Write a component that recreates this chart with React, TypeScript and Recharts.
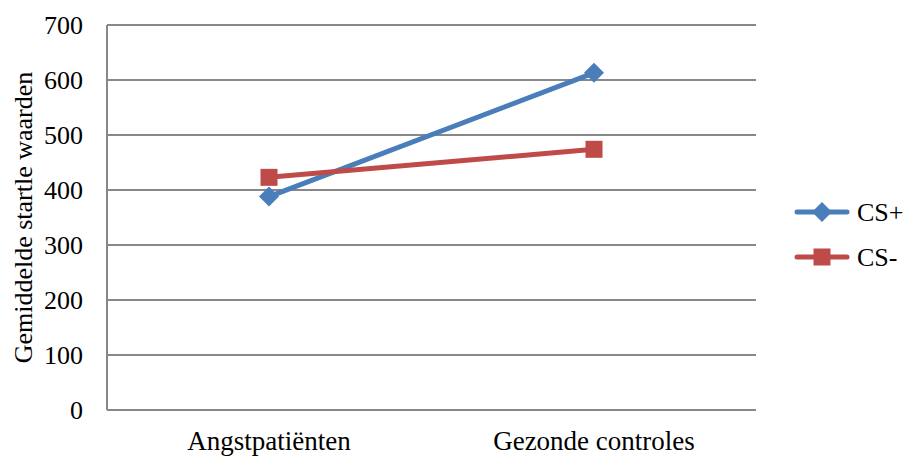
import React from "react";
import { LineChart, Line, XAxis, YAxis, CartesianGrid } from "recharts";

const groups = ["Angstpatiënten", "Gezonde controles"];
const csPlus = [388, 613];
const csMin = [423, 474];
const yTicks = [0, 100, 200, 300, 400, 500, 600, 700];

const series = [
  { key: "csPlus", name: "CS+", color: "#4A7EBB", shape: "diamond" },
  { key: "csMin", name: "CS-", color: "#BE4B48", shape: "square" },
];

const data = groups.map((g, i) => ({ group: g, csPlus: csPlus[i], csMin: csMin[i] }));

const FONT = "'Liberation Serif', 'Times New Roman', serif";
const GRID = "#888888";

function Marker({ cx, cy, shape, color }: { cx: number; cy: number; shape: string; color: string }) {
  if (shape === "diamond") {
    const r = 10;
    return <polygon points={`${cx},${cy - r} ${cx + r},${cy} ${cx},${cy + r} ${cx - r},${cy}`} fill={color} />;
  }
  const s = 17;
  return <rect x={cx - s / 2} y={cy - s / 2} width={s} height={s} fill={color} />;
}

function LegendBox() {
  return (
    <svg width={114} height={90} style={{ position: "absolute", left: 790, top: 190 }}>
      {series.map((s, i) => {
        const y = 22 + i * 45;
        return (
          <g key={s.key}>
            <line x1={7} x2={57} y1={y} y2={y} stroke={s.color} strokeWidth={5} strokeLinecap="round" />
            <Marker cx={32} cy={y} shape={s.shape} color={s.color} />
            <text x={67} y={y} dy="0.35em" fontFamily={FONT} fontSize={26} fill="#000">
              {s.name}
            </text>
          </g>
        );
      })}
    </svg>
  );
}

export default function App() {
  return (
    <div style={{ position: "absolute", left: 0, top: 0, width: 904, height: 456, background: "#fff" }}>
      <LineChart width={904} height={456} data={data} margin={{ top: 25, right: 148, bottom: 0, left: 0 }}>
        <CartesianGrid horizontal vertical={false} stroke={GRID} strokeWidth={2} />
        <XAxis
          dataKey="group"
          height={46}
          padding={{ left: 162, right: 162 }}
          tickLine={false}
          tickSize={0}
          tickMargin={21}
          axisLine={{ stroke: GRID, strokeWidth: 2 }}
          tick={{ fill: "#000", fontSize: 27, fontFamily: FONT }}
        />
        <YAxis
          width={107}
          domain={[0, 700]}
          ticks={yTicks}
          interval={0}
          tickLine={false}
          tickSize={0}
          tickMargin={24}
          axisLine={{ stroke: GRID, strokeWidth: 2 }}
          tick={{ fill: "#000", fontSize: 26, fontFamily: FONT }}
          label={{
            value: "Gemiddelde startle waarden",
            angle: -90,
            position: "center",
            dx: -31,
            fill: "#000",
            fontSize: 26,
            fontFamily: FONT,
          }}
        />
        {series.map((s) => (
          <Line
            key={s.key}
            dataKey={s.key}
            name={s.name}
            stroke={s.color}
            strokeWidth={5}
            isAnimationActive={false}
            dot={(p: any) => <Marker key={`${s.key}-${p.index}`} cx={p.cx} cy={p.cy} shape={s.shape} color={s.color} />}
            activeDot={false}
          />
        ))}
      </LineChart>
      <LegendBox />
    </div>
  );
}
